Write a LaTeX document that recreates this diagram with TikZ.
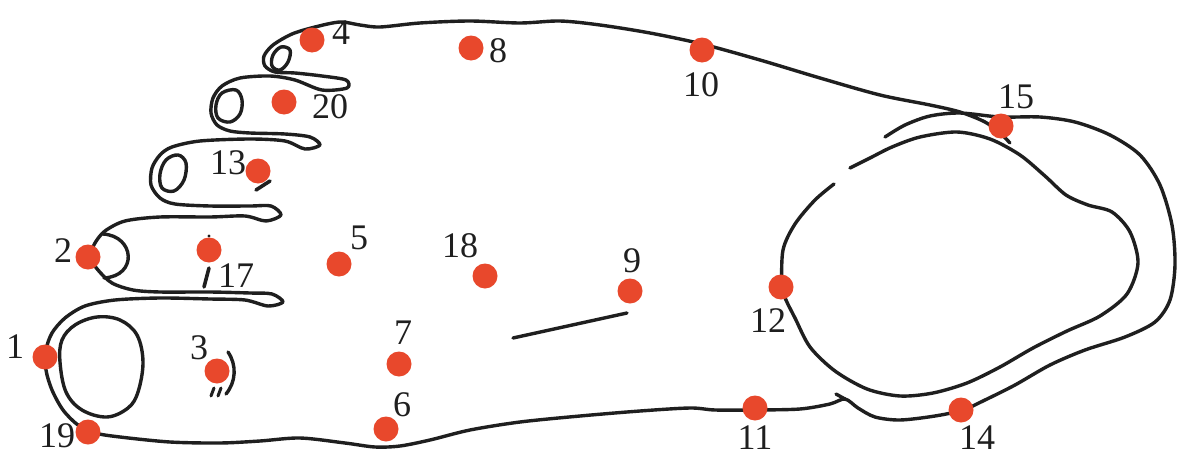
\documentclass[tikz,border=0pt]{standalone}
\usepackage{fontspec}
\setmainfont{Liberation Serif}
\definecolor{dotred}{RGB}{232,72,44}
\tikzset{
  outline/.style={line width=3.4pt, line cap=round, line join=round, draw=black!88},
  tickmark/.style={line width=3.6pt, line cap=round, draw=black!88},
  pt/.style={circle, fill=dotred, draw=none, inner sep=0pt, minimum size=25pt},
  lbl/.style={font=\fontsize{36}{36}\selectfont, inner sep=0pt, text=black!88}
}
\begin{document}
\begin{tikzpicture}[x=1pt,y=-1pt]
\useasboundingbox (0,0) rectangle (1179,458);
\fill[white] (0,0) rectangle (1179,458);

% main contour: heel, sole, toes, top edge
\draw[outline] plot[smooth, tension=0.5] coordinates {
(885,137) (905,125) (930,116) (960,113) (1000,117) (1040,117) (1075,122) (1110,135)
(1140,155) (1160,185) (1172,225) (1175,265) (1170,300) (1155,322) (1125,337) (1085,350)
(1050,365) (1015,385) (985,400) (963,410) (935,416) (900,420) (875,417) (858,408) (845,399)
(830,404) (800,409) (755,410) (715,410) (690,408) (640,411) (580,416) (520,422) (470,430)
(430,440) (400,446) (375,447) (345,443) (300,438) (260,441) (220,443) (170,442) (120,437)
(95,433) (78,425) (63,410) (52,390) (46,370) (46,350) (52,333) (65,318) (85,306) (115,300)
(160,298) (210,299) (245,300) (268,306) (283,302) (272,294) (250,293) (210,292) (160,292)
(133,290) (112,283) (98,270) (90,257) (95,243) (105,231) (125,221) (160,217) (210,217)
(245,216) (266,221) (281,215) (271,206) (250,206) (210,206) (175,204) (160,198) (151,185)
(152,168) (160,155) (172,147) (200,141) (250,139) (285,141) (305,149) (320,145) (310,137)
(285,134) (250,133) (230,131) (217,125) (211,113) (213,98) (222,86) (240,78) (270,76)
(295,80) (322,90) (347,88) (346,80) (322,76) (295,73) (275,72) (265,66) (264,56) (273,45)
(292,34) (315,27) (340,22) (360,25) (380,27) (420,23) (470,21) (520,23) (560,21) (600,25)
(650,33) (702,44) (760,60) (820,78) (880,95) (930,105) (960,112) (985,122) (1000,133) (1010,143)};

% inner heel loop (with a gap at the upper left)
\draw[outline] plot[smooth, tension=0.5] coordinates {
(850,168) (870,158) (892,147) (920,137) (957,132) (990,139) (1020,155) (1045,176)
(1066,195) (1088,205) (1112,212) (1130,232) (1138,263) (1127,294) (1100,316) (1067,331)
(1033,348) (1000,367) (967,383) (933,393) (900,396) (867,389) (835,371) (810,347)
(795,318) (786,300) (782,287) (783,250) (795,224) (815,200) (834,184)};
\draw[outline] (845,399) -- (836,394);

% big toe ring
\draw[outline] plot[smooth cycle, tension=0.6] coordinates {
(60,362) (62,340) (75,325) (97,317) (120,320) (137,335) (143,362) (138,392) (128,408) (107,417) (82,410) (66,392)};
% toe 2 arc
\draw[outline] (103,234) .. controls (135,236) and (138,276) .. (104,278);
% toe 3 ring
\draw[outline] plot[smooth cycle, tension=0.6] coordinates {
(166,160) (178,155) (186,163) (184,180) (174,191) (162,188) (160,174)};
% toe 4 ring
\draw[outline] plot[smooth cycle, tension=0.6] coordinates {
(222,93) (236,90) (242,100) (240,114) (230,122) (218,118) (216,105)};
% toe 5 ring
\draw[outline] plot[smooth cycle, tension=0.6] coordinates {
(281,47) (290,50) (288,62) (280,70) (272,66) (273,55)};

% middle stroke
\draw[outline] (513,338) -- (627,313);

% small marks
\draw[tickmark] (256,190) -- (270,181);
\draw[tickmark] (209,268) -- (204,287);
\fill[black!88] (209,236) circle (1.6);
\draw[outline] (228,352) .. controls (237,365) and (236,382) .. (226,394);
\draw[tickmark, line width=3pt] (214,388) -- (211,396);
\draw[tickmark, line width=3pt] (221,388) -- (218,396);

% points
\node[pt] (p1) at (45,357) {};
\node[pt] (p2) at (88,257) {};
\node[pt] (p3) at (217,371) {};
\node[pt] (p4) at (312,40) {};
\node[pt] (p5) at (339,264) {};
\node[pt] (p6) at (386,429) {};
\node[pt] (p7) at (399,364) {};
\node[pt] (p8) at (471,48) {};
\node[pt] (p9) at (630,291) {};
\node[pt] (p10) at (702,50) {};
\node[pt] (p11) at (755,408) {};
\node[pt] (p12) at (781,287) {};
\node[pt] (p13) at (258,171) {};
\node[pt] (p14) at (961,410) {};
\node[pt] (p15) at (1001,126) {};
\node[pt] (p17) at (209,250) {};
\node[pt] (p18) at (485,276) {};
\node[pt] (p19) at (88,432) {};
\node[pt] (p20) at (284,102) {};

% labels
\node[lbl] (l1) at (15,347) {1};
\node[lbl] (l2) at (63,251) {2};
\node[lbl] (l3) at (199,348) {3};
\node[lbl] (l4) at (341,33) {4};
\node[lbl] (l5) at (359,238) {5};
\node[lbl] (l6) at (402,405) {6};
\node[lbl] (l7) at (403,333) {7};
\node[lbl] (l8) at (498,51) {8};
\node[lbl] (l9) at (632,261) {9};
\node[lbl] (l10) at (701,85) {10};
\node[lbl] (l11) at (755,438) {11};
\node[lbl] (l12) at (768,321) {12};
\node[lbl] (l13) at (228,163) {13};
\node[lbl] (l14) at (977,438) {14};
\node[lbl] (l15) at (1016,97) {15};
\node[lbl] (l17) at (236,276) {17};
\node[lbl] (l18) at (460,246) {18};
\node[lbl] (l19) at (57,436) {19};
\node[lbl] (l20) at (330,107) {20};
\end{tikzpicture}
\end{document}
